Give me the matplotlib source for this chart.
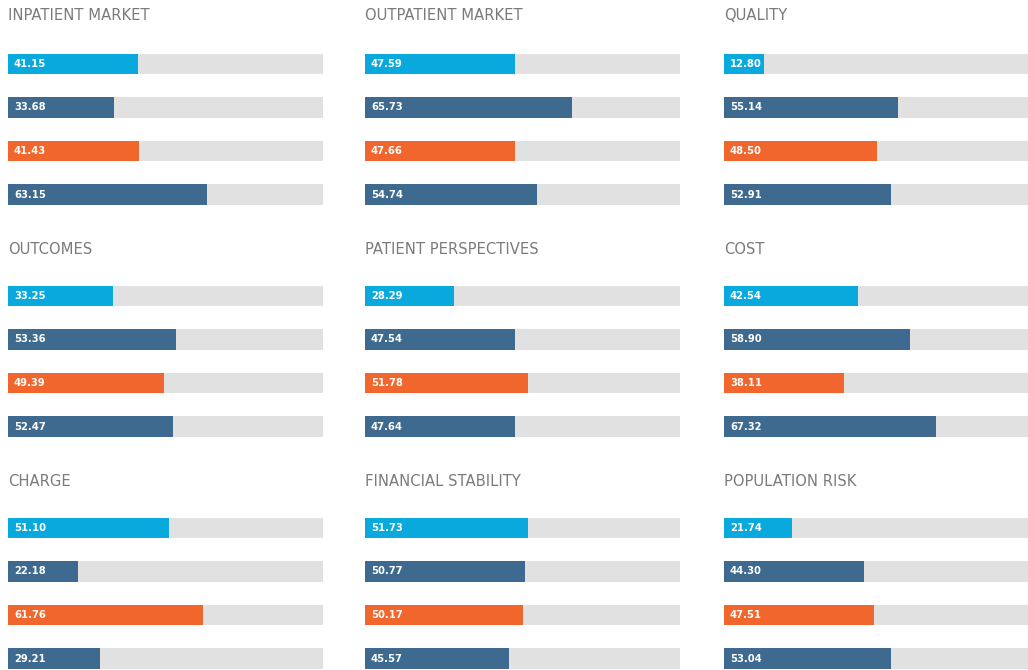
import matplotlib.pyplot as plt

# panel titles, row by row
titles = ["INPATIENT MARKET", "OUTPATIENT MARKET", "QUALITY",
          "OUTCOMES", "PATIENT PERSPECTIVES", "COST",
          "CHARGE", "FINANCIAL STABILITY", "POPULATION RISK"]

# four scores per panel (0-100 scale)
inpatient_market = [41.15, 33.68, 41.43, 63.15]
outpatient_market = [47.59, 65.73, 47.66, 54.74]
quality = [12.80, 55.14, 48.50, 52.91]
outcomes = [33.25, 53.36, 49.39, 52.47]
patient_perspectives = [28.29, 47.54, 51.78, 47.64]
cost = [42.54, 58.90, 38.11, 67.32]
charge = [51.10, 22.18, 61.76, 29.21]
financial_stability = [51.73, 50.77, 50.17, 45.57]
population_risk = [21.74, 44.30, 47.51, 53.04]

panels = [inpatient_market, outpatient_market, quality,
          outcomes, patient_perspectives, cost,
          charge, financial_stability, population_risk]

bar_colors = ["#0aa9dd", "#3d6a8e", "#f1662d", "#3d6a8e"]
track_color = "#e1e1e1"

W, H = 1028, 670
fig = plt.figure(figsize=(W / 100, H / 100), dpi=100)
fig.patch.set_facecolor("white")

col_x = [8, 365, 724]
title_y = [15, 250, 482]
track_w = 315
row_dy = 232
first_center = 64
step = 43.5

for i, (title, vals) in enumerate(zip(titles, panels)):
    r, c = divmod(i, 3)
    x0 = col_x[c]
    top = first_center + r * row_dy - step / 2
    bottom = top + 4 * step
    ax = fig.add_axes([x0 / W, 1 - bottom / H, track_w / W, (bottom - top) / H])
    ys = range(len(vals))
    ax.barh(ys, [100] * len(vals), height=0.48, color=track_color)
    ax.barh(ys, vals, height=0.48, color=bar_colors)
    for y, v in zip(ys, vals):
        ax.text(1.9, y, f"{v:.2f}", color="white", fontsize=7.2,
                fontweight="bold", family="DejaVu Sans", va="center", ha="left")
    ax.set_xlim(0, 100)
    ax.set_ylim(3.5, -0.5)
    ax.axis("off")
    fig.text(x0 / W, 1 - title_y[r] / H, title,
             fontsize=10.6, color="#7a7a7a", family="DejaVu Sans",
             va="center", ha="left")

fig.savefig("out.png", dpi=100)
